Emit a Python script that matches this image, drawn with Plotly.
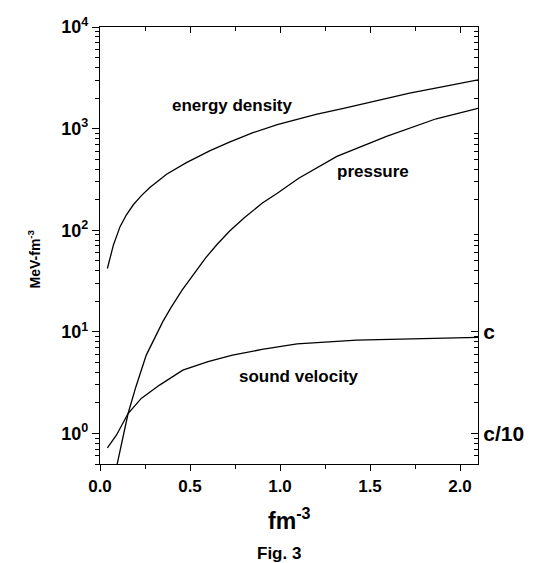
import plotly.graph_objects as go

# Data (x in fm^-3, y in MeV-fm^-3)
energy_x = [0.041, 0.075, 0.112, 0.146, 0.185, 0.23, 0.277, 0.37, 0.48, 0.609, 0.719, 0.85, 0.985, 1.2, 1.353, 1.55, 1.72, 1.9, 2.10]
energy_y = [42, 72, 109, 141, 178, 219, 263, 355, 462, 603, 736, 912, 1096, 1380, 1585, 1905, 2239, 2570, 3020]

pressure_x = [0.09, 0.156, 0.20, 0.257, 0.349, 0.395, 0.456, 0.52, 0.588, 0.65, 0.719, 0.80, 0.902, 0.985, 1.104, 1.316, 1.592, 1.868, 2.10]
pressure_y = [0.45, 1.57, 2.9, 5.9, 12.6, 17.4, 25.7, 37.2, 53.7, 72.4, 97.7, 132, 185, 231, 325, 532, 838, 1250, 1585]

sound_x = [0.041, 0.091, 0.156, 0.229, 0.331, 0.46, 0.60, 0.736, 0.90, 1.095, 1.426, 1.795, 2.10]
sound_y = [0.72, 0.96, 1.57, 2.21, 2.99, 4.2, 5.1, 5.9, 6.7, 7.6, 8.3, 8.6, 8.8]

left_ticks = [1, 10, 100, 1000, 10000]
left_labels = ["10<sup>%d</sup>" % p for p in range(5)]
right_ticks = [1, 10]
right_labels = ["c/10", "c"]
x_ticks = [0.0, 0.5, 1.0, 1.5, 2.0]
x_labels = ["0.0", "0.5", "1.0", "1.5", "2.0"]

minor_log = [m * 10 ** d for d in range(-1, 4) for m in range(2, 10)]
minor_x = [0.25, 0.75, 1.25, 1.75]

FONT = "Liberation Sans"
line = dict(color="black", width=1.3)

fig = go.Figure()
for xs, ys in [(energy_x, energy_y), (pressure_x, pressure_y), (sound_x, sound_y)]:
    fig.add_trace(go.Scatter(x=xs, y=ys, mode="lines", line=line, showlegend=False,
                             hoverinfo="skip"))
# dummy trace for right / top axes
fig.add_trace(go.Scatter(x=[None], y=[None], yaxis="y2", xaxis="x2", showlegend=False))

yr = [-0.30103, 4]
tick_common = dict(tickwidth=1.2, tickcolor="black")
fig.update_layout(
    width=535, height=563,
    margin=dict(l=92, r=65, t=19, b=107),
    plot_bgcolor="white", paper_bgcolor="white",
    font=dict(family=FONT, color="black"),
    xaxis=dict(range=[0, 2.1], showgrid=False, zeroline=False, showline=True,
               linecolor="black", linewidth=1.3, automargin=False,
               tickmode="array", tickvals=x_ticks, ticktext=x_labels,
               ticks="outside", ticklen=6, **tick_common,
               tickfont=dict(size=17, family=FONT, weight="bold"),
               minor=dict(tickmode="array", tickvals=minor_x, ticks="outside",
                          ticklen=4, **tick_common)),
    xaxis2=dict(overlaying="x", side="top", matches="x", range=[0, 2.1], automargin=False,
                showgrid=False, zeroline=False, showline=True, linecolor="black", linewidth=1.3,
                tickmode="array", tickvals=x_ticks, ticks="inside", ticklen=6, **tick_common,
                showticklabels=False,
                minor=dict(tickmode="array", tickvals=minor_x, ticks="inside",
                           ticklen=4, **tick_common)),
    yaxis=dict(type="log", range=yr, showgrid=False, zeroline=False, showline=True,
               linecolor="black", linewidth=1.3, automargin=False,
               tickmode="array", tickvals=left_ticks, ticktext=left_labels,
               ticks="outside", ticklen=7, **tick_common,
               tickfont=dict(size=18, family=FONT, weight="bold"),
               minor=dict(tickmode="array", tickvals=minor_log, ticks="outside",
                          ticklen=4, **tick_common)),
    yaxis2=dict(type="log", range=yr, overlaying="y", side="right", showgrid=False,
                zeroline=False, showline=True, linecolor="black", linewidth=1.3, automargin=False,
                tickmode="array", tickvals=right_ticks, ticktext=right_labels,
                ticks="inside", ticklen=7, **tick_common,
                tickfont=dict(size=21, family=FONT, weight="bold"),
                minor=dict(tickmode="array", tickvals=minor_log, ticks="inside",
                           ticklen=4, **tick_common)),
)

labels = [("energy density", 0.735, 3.23), ("pressure", 1.515, 2.578), ("sound velocity", 1.108, 0.559)]
for txt, lx, ly in labels:
    fig.add_annotation(x=lx, y=ly, xref="x", yref="y", text=txt, showarrow=False,
                       font=dict(size=17, family=FONT, weight="bold", color="black"))

# axis titles and caption
fig.add_annotation(x=0.5, y=-0.125, xref="paper", yref="paper", xanchor="center", yanchor="middle",
                   text="fm<sup>-3</sup>", showarrow=False,
                   font=dict(size=23, family=FONT, weight="bold", color="black"))
fig.add_annotation(x=-0.175, y=0.47, xref="paper", yref="paper", xanchor="center", yanchor="middle",
                   text="MeV-fm<sup>-3</sup>", textangle=-90, showarrow=False,
                   font=dict(size=14, family=FONT, weight="bold", color="black"))
fig.add_annotation(x=0.473, y=-0.205, xref="paper", yref="paper", xanchor="center", yanchor="middle",
                   text="Fig. 3", showarrow=False,
                   font=dict(size=17, family=FONT, weight="bold", color="black"))

fig.write_html("out.html")
